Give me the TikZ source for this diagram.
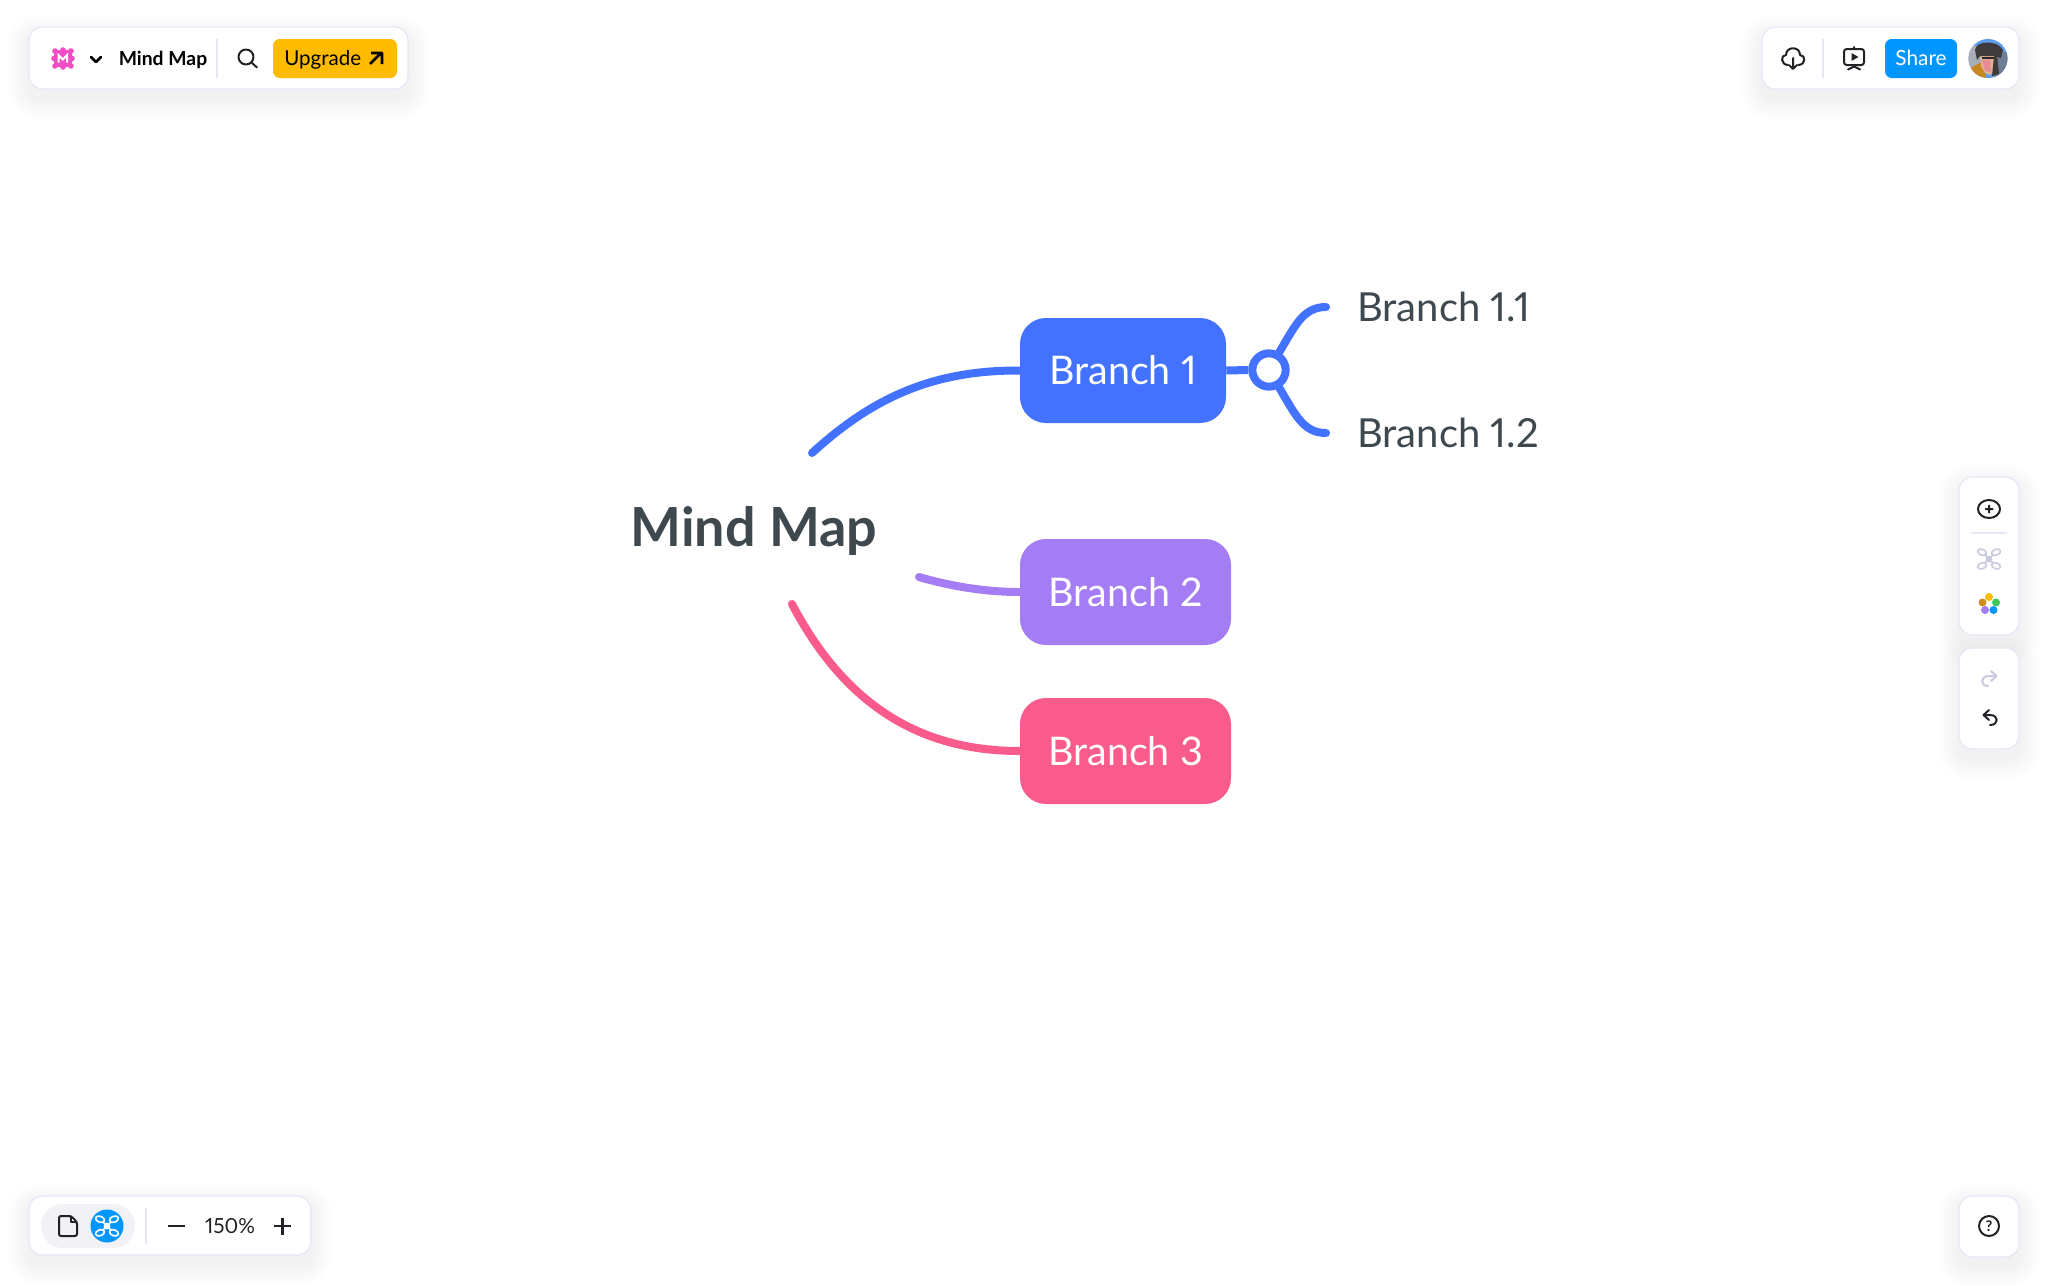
\documentclass[tikz,border=0pt]{standalone}
\usepackage{fontspec}
\setmainfont[Numbers=Proportional]{Lato}
\definecolor{bluebr}{HTML}{4272FF}
\definecolor{purplebr}{HTML}{A47CF3}
\definecolor{pinkbr}{HTML}{F95B8C}
\definecolor{inkdark}{HTML}{3E484F}
\definecolor{uiink}{HTML}{222226}
\definecolor{uiedge}{HTML}{E7E6F6}
\definecolor{uigrey}{HTML}{C9C9E0}
\definecolor{uiblue}{HTML}{0096FF}
\definecolor{uiyellow}{HTML}{FFBB00}
\definecolor{uilogo}{HTML}{F04DC4}
\definecolor{avsky}{HTML}{5E9BEA}
\definecolor{avgrey}{HTML}{A9ADB8}
\definecolor{avright}{HTML}{6F7E96}
\definecolor{avcoat}{HTML}{C9871F}
\definecolor{avface}{HTML}{E58C98}
\definecolor{avskin}{HTML}{E7B08E}
\definecolor{avhat}{HTML}{3F3B3C}
\definecolor{avglass}{HTML}{2A2A2C}
\definecolor{petalgreen}{HTML}{3CC85A}
\definecolor{petalorange}{HTML}{D08A20}
\definecolor{pillbg}{HTML}{F1F1F6}
\tikzset{
  branchbox/.style={rounded corners=19.5pt,inner sep=0pt,text=white,font=\fontsize{29.6}{34}\selectfont,text height=21pt,text depth=0pt,align=center},
  branchlink/.style={line width=6pt,line cap=round},
  leaftext/.style={inner sep=0pt,anchor=base west,text=inkdark,font=\fontsize{30}{34}\selectfont},
  uitext/.style={inner sep=0pt,text=uiink},
  uiicon/.style={draw=uiink,line width=1.5pt,line cap=round,line join=round},
  uifaint/.style={draw=uigrey,line width=1.5pt,line cap=round,line join=round},
  uisep/.style={draw=uiedge,line width=0.9pt},
}
\newcommand{\uipanel}[4]{%
  \foreach \i in {1,...,13}{
    \pgfmathsetmacro{\ex}{1.7*\i}
    \pgfmathsetmacro{\rc}{(10+\ex)*0.75}
    \fill[black!70!blue,opacity=0.0042,rounded corners=\rc pt] (#1-\ex,#2-\ex+9) rectangle (#3+\ex,#4+\ex+9);
  }
  \draw[uiedge,fill=white,line width=0.9pt,rounded corners=10pt] (#1,#2) rectangle (#3,#4);
}
\newcommand{\mapicon}[4]{% x y colour width
  \begin{scope}[shift={(#1,#2)},draw=#3,line width=#4,line cap=round]
    \draw (-3.5,-3.5) -- (3.5,3.5) (3.5,-3.5) -- (-3.5,3.5);
    \draw[rotate around={-20:(-7,-6.8)}] (-7,-6.8) ellipse (4.6 and 3);
    \draw[rotate around={20:(7,-6.8)}] (7,-6.8) ellipse (4.6 and 3);
    \draw[rotate around={20:(-7,6.8)}] (-7,6.8) ellipse (4.6 and 3);
    \draw[rotate around={-20:(7,6.8)}] (7,6.8) ellipse (4.6 and 3);
    \fill[#3] (0,0) circle (3.4);
  \end{scope}
}
\begin{document}
\begin{tikzpicture}[x=0.75pt,y=-0.75pt]
\useasboundingbox (0,0) rectangle (2048,1285);
\fill[white] (0,0) rectangle (2048,1285);

%% top-left toolbar
\uipanel{29}{27}{408}{89}
\fill[uilogo,rounded corners=3pt] (54,50) rectangle (72,67);
\foreach \a/\b in {55/51,63/50,71/51,55/66,63/67,71/66,54/58.5,72/58.5}{\fill[uilogo] (\a,\b) circle (2.8);}
\draw[white,line width=1.5pt,line join=miter] (58.5,62.5) -- (58.5,55) -- (62.8,59.5) -- (67,55) -- (67,62.5);
\draw[uiicon,line width=1.9pt,draw=black] (91,57) -- (96,62) -- (101,57);
\node[uitext,text=black,anchor=base west,font=\fontsize{14.5}{18}\selectfont\bfseries] (tbtitle) at (118.5,65) {Mind Map};
\draw[uisep] (217,39) -- (217,78);
\draw[uiicon] (246,57) circle (7.5) (251.5,62.5) -- (257,67.5);
\fill[uiyellow,rounded corners=5pt] (273,39) rectangle (397,78);
\node[uitext,text=black,anchor=base west,font=\fontsize{15.4}{18}\selectfont] (tbup) at (284,65) {Upgrade};
\draw[uiicon,draw=black,line width=2pt,line cap=butt] (370,64) -- (381,53) (371,53) -- (382,53) -- (382,64);

%% top-right toolbar
\uipanel{1762}{27}{2019}{89}
\draw[uiicon] (1788,65) .. controls (1781,65) and (1780,55) .. (1786,55) .. controls (1786,46) and (1800,46) .. (1800,55) .. controls (1806,55) and (1806,65) .. (1798,65);
\draw[uiicon] (1793,58) -- (1793,68) (1789,65) -- (1793,69) -- (1797,65);
\draw[uisep,line width=1.3pt] (1823,39) -- (1823,78);
\draw[uiicon,rounded corners=2pt] (1844,49) rectangle (1864,65);
\draw[uiicon] (1854,47) -- (1854,49) (1854,65) -- (1854,67) (1848,69.5) -- (1854,66.5) -- (1860,69.5);
\fill[uiink] (1851.5,53) -- (1858.5,57) -- (1851.5,61) -- cycle;
\fill[uiblue,rounded corners=5pt] (1885,39) rectangle (1957,78);
\node[uitext,text=white,font=\fontsize{15.6}{18}\selectfont,anchor=base] (tbshare) at (1921,65) {Share};
\begin{scope}
  \clip (1988,58.5) circle (19.5);
  \fill[avsky] (1968,39) rectangle (2008,78);
  \fill[avgrey] (1968,46) rectangle (1982,78);
  \fill[avright] (1994,52) rectangle (2008,78);
  \fill[avcoat] (1970,68) -- (1982,62) -- (1986,78) -- (1970,80) -- cycle;
  \fill[avskin] (1981,56) -- (1995,56) -- (1996,68) -- (1990,75) -- (1985,73) -- (1981,66) -- cycle;
  \fill[avface] (1982,60) -- (1990,60) -- (1991,72) -- (1985,71) -- cycle;
  \fill[avhat] (1975,50) .. controls (1976,40) and (1998,40) .. (2003,50) -- (2001,58) -- (1994,56) -- (1980,56) -- (1977,60) -- cycle;
  \fill[avhat] (1994,56) -- (1997,56) -- (1999,74) -- (1992,76) -- cycle;
  \fill[avglass] (1982,57) rectangle (1994,59);
\end{scope}

%% right side panels
\uipanel{1959}{477}{2019}{635}
\draw[uiicon] (1989,509) ellipse (11 and 9) (1989,505.5) -- (1989,512.5) (1985.5,509) -- (1992.5,509);
\draw[uisep] (1971,533) -- (2007,533);
\mapicon{1989}{559}{uigrey}{1.2pt}
\fill[uiyellow] (1989,597) circle (4);
\fill[petalgreen] (1996,602.5) circle (4);
\fill[uiblue] (1993.5,610) circle (4);
\fill[purplebr] (1985,610) circle (4);
\fill[petalorange] (1982.5,602.5) circle (4);
\uipanel{1959}{648}{2019}{749}
\draw[uifaint] (1996,676) -- (1989,676) .. controls (1980,676) and (1980,686) .. (1988,686);
\draw[uifaint] (1991,671) -- (1996.5,676) -- (1991,681);
\draw[uiicon] (1984,715) -- (1990,715) .. controls (1999,715) and (1999,725) .. (1990,725);
\draw[uiicon] (1989,710) -- (1983.5,715) -- (1989,720);

%% bottom-left panel
\uipanel{29}{1196}{311}{1255}
\fill[pillbg,rounded corners=16.5pt] (41,1204) rectangle (135,1248);
\draw[uiicon,rounded corners=1.5pt] (59,1216) -- (71,1216) -- (77,1222) -- (77,1236) -- (59,1236) -- cycle;
\draw[uiicon,line width=1.2pt] (71,1216) -- (71,1222) -- (77,1222);
\fill[uiblue] (107,1226) circle (16.5);
\mapicon{107}{1226}{white}{1.2pt}
\draw[uisep] (146,1208) -- (146,1244);
\draw[uiicon,line width=1.8pt,line cap=butt] (168,1226) -- (185,1226);
\node[uitext,font=\fontsize{15.6}{18}\selectfont] (zoomlabel) at (230,1226) {150\%};
\draw[uiicon,line width=1.8pt,line cap=butt] (274,1226) -- (291,1226) (282.5,1217.5) -- (282.5,1234.5);

%% help panel
\uipanel{1959}{1196}{2019}{1257}
\draw[uiicon] (1989,1226) circle (10);
\node[uitext,font=\fontsize{11}{12}\selectfont\bfseries] (helpmark) at (1989,1226) {?};

%% the map
\coordinate (blueend) at (812,453);
\coordinate (purpleend) at (919,577);
\coordinate (pinkend) at (792,604);
\coordinate (leafa) at (1326,307);
\coordinate (leafb) at (1326,433);

\node[inner sep=0pt,anchor=base west,text=inkdark,font=\fontsize{40.4}{46}\selectfont\bfseries] (root) at (630.5,546) {Mind Map};

\node[branchbox,fill=bluebr,minimum width=154.5pt,minimum height=78.75pt] (b1) at (1123,370.5) {Branch 1};
\node[branchbox,fill=purplebr,minimum width=158.25pt,minimum height=79.5pt] (b2) at (1125.5,592) {Branch 2};
\node[branchbox,fill=pinkbr,minimum width=158.25pt,minimum height=79.5pt] (b3) at (1125.5,751) {Branch 3};

\node[circle,draw=bluebr,fill=white,line width=6pt,minimum size=25pt,inner sep=0pt] (hub) at (1269,370) {};

\draw[branchlink,draw=bluebr] (blueend) .. controls (870,400) and (930,370) .. (b1.west);
\draw[branchlink,draw=purplebr] (purpleend) .. controls (950,586) and (985,592) .. (b2.west);
\draw[branchlink,draw=pinkbr] (pinkend) .. controls (845,705) and (920,751) .. (b3.west);
\draw[line width=6pt,draw=bluebr] (b1.east) -- (hub.west);
\draw[branchlink,draw=bluebr] (hub.60) .. controls (1295,326) and (1303,307) .. (leafa);
\draw[branchlink,draw=bluebr] (hub.-60) .. controls (1295,414) and (1303,433) .. (leafb);

\node[leaftext] (n11) at (1357,321) {Branch 1.1};
\node[leaftext] (n12) at (1357,447) {Branch 1.2};
\end{tikzpicture}
\end{document}
